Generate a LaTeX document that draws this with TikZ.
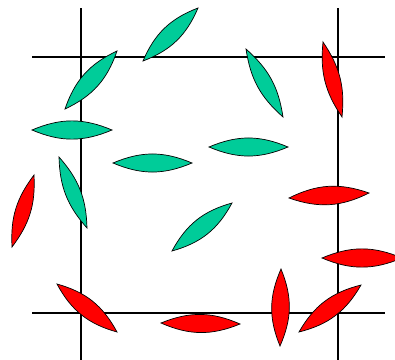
\documentclass[tikz,border=0pt]{standalone}
\usepackage{tikz}
\definecolor{LeafGreen}{HTML}{00CC99}
\definecolor{LeafRed}{HTML}{FF0000}
\tikzset{
  gridline/.style={draw=black,line width=1.1pt},
  greenleaf/.style={draw=black,fill=LeafGreen,line width=0.7pt},
  redleaf/.style={draw=black,fill=LeafRed,line width=0.7pt},
  lensbend/.style={bend left=23},
  thinbend/.style={bend left=20},
}
\begin{document}
\begin{tikzpicture}[x=1bp,y=-1bp]
  \useasboundingbox (0,0) rectangle (395,360);
  \clip (0,0) rectangle (395,360);
  % grid
  \draw[gridline] (81,8) -- (81,360);
  \draw[gridline] (338,8) -- (338,360);
  \draw[gridline] (32,57) -- (385,57);
  \draw[gridline] (32,313) -- (385,313);
  % green leaves
  \draw[greenleaf] (143,61) to[lensbend] (198,8) to[lensbend] (143,61) -- cycle;
  \draw[greenleaf] (65,109) to[lensbend] (117,51) to[lensbend] (65,109) -- cycle;
  \draw[greenleaf] (32,130) to[lensbend] (112,130) to[lensbend] (32,130) -- cycle;
  \draw[greenleaf] (113,163) to[lensbend] (192,163) to[lensbend] (113,163) -- cycle;
  \draw[greenleaf] (246,49) to[thinbend] (283,117) to[thinbend] (246,49) -- cycle;
  \draw[greenleaf] (209,147) to[lensbend] (288,147) to[lensbend] (209,147) -- cycle;
  \draw[greenleaf] (59,157) to[thinbend] (87,228) to[thinbend] (59,157) -- cycle;
  \draw[greenleaf] (172,251) to[lensbend] (232,203) to[lensbend] (172,251) -- cycle;
  % red leaves
  \draw[redleaf] (323,42) to[thinbend] (342,117) to[thinbend] (323,42) -- cycle;
  \draw[redleaf] (12,247) to[thinbend] (34,175) to[thinbend] (12,247) -- cycle;
  \draw[redleaf] (57,284) to[lensbend] (117,332) to[lensbend] (57,284) -- cycle;
  \draw[redleaf] (161,323) to[lensbend] (240,324) to[lensbend] (161,323) -- cycle;
  \draw[redleaf] (281,269) to[lensbend] (280,346) to[lensbend] (281,269) -- cycle;
  \draw[redleaf] (299,332) to[lensbend] (361,285) to[lensbend] (299,332) -- cycle;
  \draw[redleaf] (289,198) to[lensbend] (369,193) to[lensbend] (289,198) -- cycle;
  \draw[redleaf] (322,258) to[lensbend] (402,258) to[lensbend] (322,258) -- cycle;
\end{tikzpicture}
\end{document}
